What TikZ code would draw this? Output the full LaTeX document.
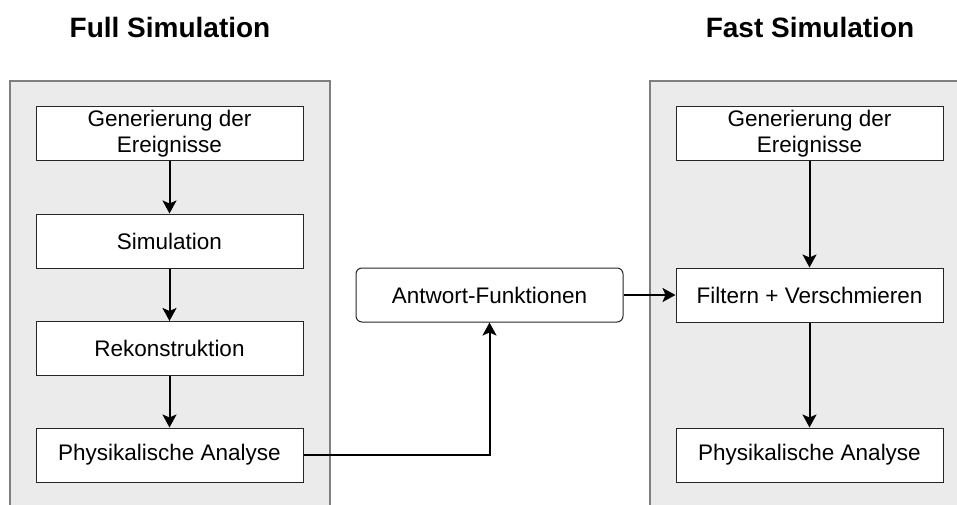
\documentclass[tikz,border=0pt]{standalone}
\usepackage{fontspec}
\setmainfont{Liberation Sans}
\usetikzlibrary{arrows.meta}
\definecolor{panelfill}{HTML}{EBEBEB}
\definecolor{panelline}{HTML}{7F7F7F}
\tikzset{
  panel/.style={draw=panelline, fill=panelfill, line width=1.2pt},
  stepbox/.style={draw=black!85, fill=white, line width=1pt, minimum width=267pt, minimum height=54pt, inner sep=0pt, align=center, font=\fontsize{22.5}{26}\selectfont},
  roundbox/.style={stepbox, rounded corners=6pt},
  title/.style={font=\bfseries\fontsize{28}{32}\selectfont},
  conn/.style={line width=2pt, -{Stealth[length=13pt,width=14pt,inset=3pt]}},
}
\begin{document}
\begin{tikzpicture}[x=1pt,y=-1pt]
\useasboundingbox (0,0) rectangle (957,505);
\clip (0,0) rectangle (957,505);
\fill[white] (0,0) rectangle (957,505);
\draw[panel] (10,81) rectangle (330,530);
\draw[panel] (650,81) rectangle (980,530);
\node[title] (t1) at (170,27) {Full Simulation};
\node[title] (t2) at (810,27) {Fast Simulation};
\node[stepbox] (a1) at (169.5,134) {Generierung der\\Ereignisse};
\node[stepbox] (a2) at (169.5,241) {Simulation};
\node[stepbox] (a3) at (169.5,348.5) {Rekonstruktion};
\node[stepbox] (a4) at (169.5,455) {Physikalische Analyse};
\node[roundbox] (af) at (489.5,295) {Antwort-Funktionen};
\node[stepbox] (b1) at (809.5,134) {Generierung der\\Ereignisse};
\node[stepbox] (b2) at (809.5,295) {Filtern + Verschmieren};
\node[stepbox] (b3) at (809.5,455) {Physikalische Analyse};
\draw[conn] (a1) -- (a2);
\draw[conn] (a2) -- (a3);
\draw[conn] (a3) -- (a4);
\draw[conn] (b1) -- (b2);
\draw[conn] (b2) -- (b3);
\draw[conn] (a4.east) -| (af.south);
\draw[conn] (af) -- (b2);
\end{tikzpicture}
\end{document}
